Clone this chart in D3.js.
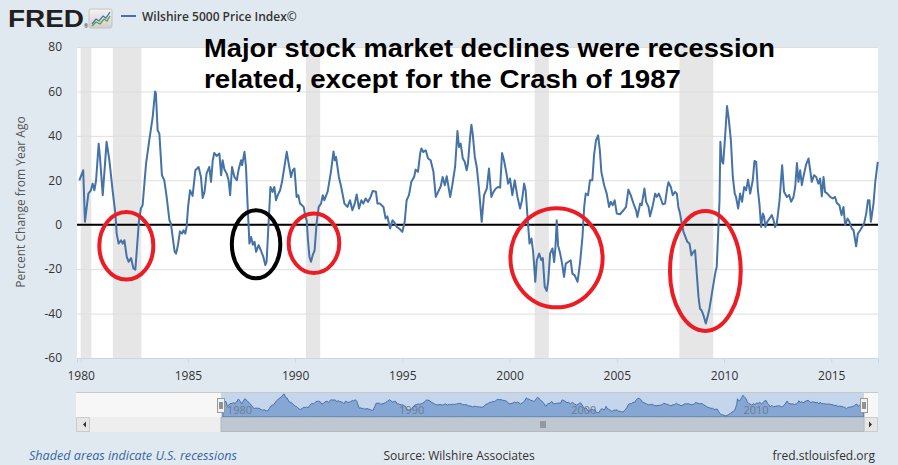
<!DOCTYPE html>
<html lang="en">
<head>
<meta charset="UTF-8">
<title>Wilshire 5000 Price Index</title>
<script src="https://d3js.org/d3.v7.min.js"></script>
<style>
  body { margin: 0; background: #e1e9f0; }
  svg { display: block; font-family: "Open Sans", sans-serif; }
</style>
</head>
<body>
<svg width="898" height="465"></svg>
<script>
// percent change from year ago (decimal years)
const years = [
  1979.94, 1980.12, 1980.2, 1980.36, 1980.48, 1980.56, 1980.64, 1980.72, 1980.84, 1980.9,
  1981.03, 1981.21, 1981.34, 1981.49, 1981.62, 1981.68, 1981.77, 1981.88, 1981.96, 1982.04,
  1982.15, 1982.24, 1982.35, 1982.46, 1982.55, 1982.63, 1982.72, 1982.81, 1982.89, 1983.05,
  1983.2, 1983.36, 1983.47, 1983.51, 1983.59, 1983.67, 1983.79, 1983.9, 1984.01, 1984.14,
  1984.21, 1984.29, 1984.38, 1984.45, 1984.54, 1984.63, 1984.73, 1984.8, 1984.88, 1984.94,
  1985.01, 1985.1, 1985.22, 1985.35, 1985.5, 1985.61, 1985.69, 1985.78, 1985.87, 1986.0,
  1986.08, 1986.16, 1986.23, 1986.34, 1986.47, 1986.55, 1986.62, 1986.7, 1986.81, 1986.9,
  1986.97, 1987.06, 1987.17, 1987.28, 1987.37, 1987.48, 1987.53, 1987.64, 1987.71, 1987.79,
  1987.87, 1987.95, 1988.03, 1988.11, 1988.18, 1988.3, 1988.4, 1988.52, 1988.61, 1988.67,
  1988.77, 1988.85, 1988.95, 1989.03, 1989.11, 1989.19, 1989.3, 1989.39, 1989.5, 1989.61,
  1989.7, 1989.81, 1989.89, 1989.97, 1990.07, 1990.15, 1990.23, 1990.32, 1990.4, 1990.48,
  1990.54, 1990.6, 1990.67, 1990.74, 1990.82, 1990.91, 1991.0, 1991.1, 1991.21, 1991.29,
  1991.36, 1991.52, 1991.68, 1991.79, 1991.85, 1991.91, 1992.04, 1992.15, 1992.3, 1992.44,
  1992.56, 1992.67, 1992.78, 1992.87, 1992.98, 1993.09, 1993.18, 1993.29, 1993.4, 1993.52,
  1993.62, 1993.77, 1993.84, 1993.96, 1994.12, 1994.22, 1994.3, 1994.43, 1994.54, 1994.61,
  1994.74, 1994.85, 1995.0, 1995.11, 1995.2, 1995.31, 1995.42, 1995.55, 1995.62, 1995.73,
  1995.83, 1995.89, 1995.98, 1996.09, 1996.2, 1996.32, 1996.45, 1996.56, 1996.67, 1996.79,
  1996.88, 1996.98, 1997.07, 1997.23, 1997.33, 1997.46, 1997.57, 1997.64, 1997.72, 1997.82,
  1997.91, 1998.0, 1998.06, 1998.16, 1998.22, 1998.28, 1998.38, 1998.47, 1998.58, 1998.7,
  1998.81, 1998.94, 1999.04, 1999.15, 1999.25, 1999.36, 1999.46, 1999.56, 1999.65, 1999.74,
  1999.87, 1999.93, 2000.02, 2000.13, 2000.24, 2000.37, 2000.49, 2000.58, 2000.68, 2000.75,
  2000.86, 2000.93, 2001.02, 2001.1, 2001.2, 2001.27, 2001.38, 2001.48, 2001.55, 2001.64,
  2001.73, 2001.8, 2001.89, 2002.0, 2002.08, 2002.14, 2002.2, 2002.26, 2002.36, 2002.45,
  2002.54, 2002.62, 2002.73, 2002.85, 2002.93, 2003.04, 2003.17, 2003.29, 2003.4, 2003.48,
  2003.55, 2003.66, 2003.75, 2003.86, 2003.94, 2004.03, 2004.13, 2004.21, 2004.28, 2004.41,
  2004.53, 2004.64, 2004.72, 2004.81, 2004.9, 2005.0, 2005.15, 2005.31, 2005.43, 2005.54,
  2005.65, 2005.78, 2005.9, 2005.96, 2006.09, 2006.16, 2006.29, 2006.37, 2006.48, 2006.55,
  2006.68, 2006.79, 2006.86, 2006.96, 2007.05, 2007.14, 2007.25, 2007.36, 2007.41, 2007.52,
  2007.61, 2007.72, 2007.8, 2007.87, 2007.95, 2008.03, 2008.11, 2008.2, 2008.29, 2008.39,
  2008.48, 2008.57, 2008.65, 2008.73, 2008.81, 2008.88, 2008.95, 2009.04, 2009.15, 2009.23,
  2009.32, 2009.41, 2009.51, 2009.6, 2009.66, 2009.72, 2009.79, 2009.83, 2009.89, 2009.96,
  2010.0, 2010.07, 2010.14, 2010.22, 2010.32, 2010.41, 2010.5, 2010.56, 2010.66, 2010.75,
  2010.84, 2010.94, 2011.03, 2011.12, 2011.22, 2011.34, 2011.42, 2011.5, 2011.58, 2011.65,
  2011.73, 2011.81, 2011.87, 2011.93, 2012.02, 2012.12, 2012.23, 2012.31, 2012.38, 2012.46,
  2012.59, 2012.71, 2012.8, 2012.93, 2013.04, 2013.13, 2013.24, 2013.32, 2013.4, 2013.47,
  2013.55, 2013.63, 2013.7, 2013.83, 2013.94, 2014.02, 2014.09, 2014.2, 2014.3, 2014.4,
  2014.48, 2014.56, 2014.64, 2014.71, 2014.82, 2014.95, 2015.07, 2015.18, 2015.26, 2015.38,
  2015.48, 2015.57, 2015.65, 2015.76, 2015.85, 2015.96, 2016.04, 2016.16, 2016.24, 2016.35,
  2016.44, 2016.53, 2016.63, 2016.71, 2016.78, 2016.85, 2016.97, 2017.06, 2017.17
];
const values = [
  20, 24.5, 1.3, 14, 15.5, 18.5, 15.5, 20, 36.5, 30.5,
  13.3, 37.3, 29, 15.5, 5, -4, -8.5, -7, -8.5, -7,
  -14.5, -16.7, -15, -19.7, -20.2, -10, 2, 7.3, 8.8, 27.5,
  38, 48.5, 60, 59, 42.5, 41, 22.3, 20, 12.5, 2,
  0.5, -5.5, -12, -13, -9, -3, -4, -2.5, -4, -1,
  8, 15.5, 13, 24.5, 26, 21.5, 12, 15, 23, 26,
  19.3, 29, 32.3, 31, 32, 22.3, 29, 25, 23, 20,
  13.3, 26, 21.5, 20, 25, 29, 26.8, 32.8, 26, 8,
  -8.5, -5.5, -9, -7.7, -12.2, -9.2, -11.5, -14.5, -18.2, -16.7,
  2, 17, 14.8, 17, 11, 13.3, 15.5, 19.3, 26, 32.8,
  27.5, 21.5, 24.5, 25.3, 12.5, 13.3, 9.5, 8.8, 8, 3.5,
  2, -7, -14.5, -16.7, -13.7, -11.5, 0.5, 8, 9.5, 13.3,
  11, 15, 24.5, 33, 29, 30.5, 21.5, 17, 9.5, 8,
  11, 6.5, 9.5, 13.6, 7.3, 11, 9.5, 11.8, 10.3, 12.5,
  15.2, 14.8, 9.5, 9.5, 8, 2.8, 3.8, -1.7, 2, 1.3,
  -1, -1.7, -3.2, 1.3, 11, 13.3, 19.3, 21.5, 24.8, 23.8,
  32, 34.3, 32.7, 33.5, 29.8, 29, 23.8, 12.5, 14.8, 17.3,
  21.5, 17.8, 21.8, 12.5, 17.8, 26, 42.2, 35, 36.5, 29.8,
  28.3, 24.5, 27.5, 39.5, 45, 41, 30.5, 26, 15.5, 1.3,
  13.3, 16.3, 25.3, 12.5, 14.8, 16.3, 17, 16.7, 32.3, 29,
  22.3, 18.5, 20.8, 13.3, 20, 12.5, 7.3, 11, 18.5, 15.5,
  0.5, -8.5, -6.2, -12.2, -25.7, -16, -13, -16, -15, -28,
  -29.8, -25.7, -13, -10.7, -16.8, -10, 2, -9.2, -13, -17.5,
  -23.5, -17.5, -16.8, -16, -22, -22.8, -25.7, -16.8, -5.5, 8,
  14, 13.3, 20, 20, 31.3, 38, 40.2, 33.5, 23.8, 17.8,
  14, 8, 10.3, 8.8, 11, 5, 4.7, 6.5, 8, 15.8,
  13.3, 9.5, 6.5, 3.5, 9.5, 8.8, 16.3, 10.3, 8, 3.8,
  8.8, 14, 12.5, 14, 11.8, 9.2, 9.5, 17, 19.1, 17,
  13.3, 14.8, 14, 8, 5, 0.5, -3.2, -5.5, -7.7, -8.5,
  -13.8, -12.3, -11.5, -22, -32.5, -37.8, -38.5, -40.7, -44.5, -41.5,
  -37.8, -32.5, -26.5, -21.3, -19, -5.5, 11, 37.3, 29, 27.5,
  32.8, 42.5, 53.4, 47.8, 38, 21.5, 14, 12.5, 7.3, 14,
  10.3, 17, 15.5, 20.3, 14, 20, 28.7, 28.3, 15.5, 9.5,
  -1, 5, 3.5, -1, 1.3, 2.8, 4.3, 2, -1, 0.5,
  11, 26.8, 14.8, 12.5, 13.3, 10.3, 12.5, 17, 27.8, 19.3,
  24.5, 17.8, 21.5, 27.2, 29.8, 24.5, 19.3, 22.3, 21.5, 18.5,
  20.8, 12.8, 21.5, 14.8, 14, 12.5, 11.8, 12.5, 9.8, 8.8,
  4.3, 8, -0.2, 2.8, 1.3, -1.7, -2.5, -9.7, -4, -2.5,
  -1, 0.5, 5, 11, 11, 1.3, 9.5, 20, 28.3
];

// U.S. recessions [start, end]
const recessions = [[1980.0, 1980.5], [1981.5, 1982.83], [1990.5, 1991.17], [2001.17, 2001.83], [2007.92, 2009.5]];

const yTicks = [-60, -40, -20, 0, 20, 40, 60, 80];
const xTicks = [1980, 1985, 1990, 1995, 2000, 2005, 2010, 2015];
const navTicks = [1980, 1990, 2000, 2010];

// hand-drawn rings: [centre year, centre value, half-width in years, half-height in %, colour]
const rings = [
  [1982.13, -9.5, 1.26, 15.2, "#ec1c24"],
  [1988.18, -8.8, 1.13, 15.3, "#000000"],
  [1990.88, -8.3, 1.18, 13.4, "#ec1c24"],
  [2002.19, -14.9, 2.15, 22.3, "#ec1c24"],
  [2009.13, -20.8, 1.65, 27.0, "#ec1c24"]
];

const noteLines = ["Major stock market declines were recession", "related, except for the Crash of 1987"];

const svg = d3.select("svg");
const W = 898, H = 465;
const plot = { left: 77, right: 878, top: 47, bottom: 358 };
const lineColor = "#4572a7";

const x = d3.scaleLinear().domain([1979.83, 2017.18]).range([plot.left, plot.right]);
const y = d3.scaleLinear().domain([-60, 80]).range([plot.bottom, plot.top]);

svg.append("rect").attr("width", W).attr("height", H).attr("fill", "#e1e9f0");
svg.append("rect")
  .attr("x", plot.left).attr("y", plot.top)
  .attr("width", plot.right - plot.left).attr("height", plot.bottom - plot.top)
  .attr("fill", "#ffffff");

// recession shading
svg.selectAll(".rec")
  .data(recessions)
  .enter().append("rect")
  .attr("class", "rec")
  .attr("x", d => x(d[0]))
  .attr("width", d => x(d[1]) - x(d[0]))
  .attr("y", plot.top)
  .attr("height", plot.bottom - plot.top)
  .attr("fill", "#e6e6e6");

// y axis + gridlines
const yAxis = svg.append("g")
  .attr("transform", `translate(${plot.left},0)`)
  .call(d3.axisLeft(y).tickValues(yTicks).tickFormat(d => String(d))
    .tickSize(-(plot.right - plot.left)).tickPadding(15));
yAxis.select(".domain").remove();
yAxis.selectAll(".tick line").attr("stroke", "#dedede");
yAxis.selectAll(".tick text")
  .attr("fill", "#333")
  .style("font-size", "12px")
  .style("font-family", "'Open Sans', sans-serif");

// x axis
const xAxis = svg.append("g")
  .attr("transform", `translate(0,${plot.bottom})`)
  .call(d3.axisBottom(x).tickValues(xTicks).tickFormat(d => String(d))
    .tickSize(5).tickPadding(8));
xAxis.select(".domain").attr("stroke", "#ccd6eb");
xAxis.selectAll(".tick line").attr("stroke", "#ccd6eb");
xAxis.selectAll(".tick text")
  .attr("fill", "#333")
  .style("font-size", "12px")
  .style("font-family", "'Open Sans', sans-serif");

// zero line
svg.append("line")
  .attr("x1", plot.left).attr("x2", plot.right)
  .attr("y1", y(0)).attr("y2", y(0))
  .attr("stroke", "#000").attr("stroke-width", 2);

// series
const line = d3.line()
  .x((d, i) => x(years[i]))
  .y(d => y(d));

svg.append("path")
  .datum(values)
  .attr("fill", "none")
  .attr("stroke", lineColor)
  .attr("stroke-width", 2)
  .attr("stroke-linejoin", "round")
  .attr("d", line);

// rings
svg.selectAll(".ring")
  .data(rings)
  .enter().append("ellipse")
  .attr("class", "ring")
  .attr("cx", d => x(d[0]))
  .attr("cy", d => y(d[1]))
  .attr("rx", d => x(d[0] + d[2]) - x(d[0]))
  .attr("ry", d => y(d[1] - d[3]) - y(d[1]))
  .attr("fill", "none")
  .attr("stroke", d => d[4])
  .attr("stroke-width", 4);

// annotation
svg.selectAll(".note")
  .data(noteLines)
  .enter().append("text")
  .attr("class", "note")
  .attr("x", 204)
  .attr("y", (d, i) => 57 + i * 31)
  .attr("textLength", (d, i) => i === 0 ? 571 : 477)
  .attr("lengthAdjust", "spacingAndGlyphs")
  .style("font-family", "'Liberation Sans', Arial, sans-serif")
  .style("font-weight", "bold")
  .style("font-size", "26px")
  .attr("fill", "#000")
  .text(d => d);

// y title
svg.append("text")
  .attr("transform", "translate(25,202) rotate(-90)")
  .attr("text-anchor", "middle")
  .attr("fill", "#555")
  .style("font-size", "12px")
  .text("Percent Change from Year Ago");

// header: logo + legend
svg.append("text")
  .attr("x", 8).attr("y", 27)
  .attr("textLength", 76)
  .attr("lengthAdjust", "spacingAndGlyphs")
  .style("font-family", "'Liberation Sans', Arial, sans-serif")
  .style("font-weight", "bold")
  .style("font-size", "24px")
  .attr("fill", "#231f20")
  .text("FRED");
svg.append("text")
  .attr("x", 84).attr("y", 28)
  .style("font-size", "5px")
  .attr("fill", "#231f20")
  .text("®");

const grad = svg.append("defs").append("linearGradient")
  .attr("id", "iconGrad").attr("x1", 0).attr("x2", 0).attr("y1", 0).attr("y2", 1);
grad.append("stop").attr("offset", "0%").attr("stop-color", "#f4f4f4");
grad.append("stop").attr("offset", "100%").attr("stop-color", "#cfcfcf");
const icon = svg.append("g").attr("transform", "translate(89,9)");
icon.append("rect").attr("width", 23).attr("height", 19).attr("rx", 2)
  .attr("fill", "url(#iconGrad)").attr("stroke", "#c4c4c4");
icon.append("polyline").attr("points", "3,15 7,10 10,12 14,7 17,9 21,3")
  .attr("fill", "none").attr("stroke", "#4572a7").attr("stroke-width", 1.3);
icon.append("polyline").attr("points", "3,17 7,13 11,15 15,10 18,12 21,7")
  .attr("fill", "none").attr("stroke", "#5c9e3c").attr("stroke-width", 1.3);

svg.append("line")
  .attr("x1", 121).attr("x2", 136).attr("y1", 16).attr("y2", 16)
  .attr("stroke", lineColor).attr("stroke-width", 2);
svg.append("text")
  .attr("x", 142).attr("y", 20.5)
  .attr("fill", "#333")
  .style("font-size", "12px")
  .style("font-weight", "600")
  .text("Wilshire 5000 Price Index©");

// navigator
const nav = { left: 76, right: 878, top: 393, bottom: 417, scroll: 432 };
const navX = d3.scaleLinear().domain(x.domain()).range([221, 864]);
const navY = d3.scaleLinear().domain(d3.extent(values)).range([416, 394]);

svg.append("rect")
  .attr("x", nav.left).attr("y", nav.top)
  .attr("width", nav.right - nav.left).attr("height", nav.bottom - nav.top)
  .attr("fill", "#f7f7f7");
svg.append("rect")
  .attr("x", navX.range()[0]).attr("y", nav.top)
  .attr("width", navX.range()[1] - navX.range()[0]).attr("height", nav.bottom - nav.top)
  .attr("fill", "#c5d5ec");

const area = d3.area()
  .x((d, i) => navX(years[i]))
  .y0(nav.bottom)
  .y1(d => navY(d));
svg.append("path")
  .datum(values)
  .attr("fill", "#86a6d4")
  .attr("stroke", lineColor)
  .attr("stroke-width", 1)
  .attr("d", area);

svg.append("line")
  .attr("x1", nav.left).attr("x2", nav.right)
  .attr("y1", nav.top - 0.5).attr("y2", nav.top - 0.5)
  .attr("stroke", "#c8c8c8");

svg.selectAll(".navlab")
  .data(navTicks)
  .enter().append("text")
  .attr("class", "navlab")
  .attr("x", d => navX(d) + 3)
  .attr("y", 414)
  .attr("fill", "#6d7c8e")
  .style("font-size", "11px")
  .text(d => d);

// scrollbar
svg.append("rect")
  .attr("x", nav.left).attr("y", nav.bottom)
  .attr("width", nav.right - nav.left).attr("height", nav.scroll - nav.bottom)
  .attr("fill", "#eeeeee");
svg.append("rect")
  .attr("x", navX.range()[0]).attr("y", nav.bottom + 0.5)
  .attr("width", navX.range()[1] - navX.range()[0]).attr("height", nav.scroll - nav.bottom - 1)
  .attr("fill", "#bfc8d1").attr("stroke", "#b2bac4");
const gripX = (navX.range()[0] + navX.range()[1]) / 2;
[-2, 0, 2].forEach(o => {
  svg.append("line")
    .attr("x1", gripX + o + 0.5).attr("x2", gripX + o + 0.5)
    .attr("y1", 421).attr("y2", 428)
    .attr("stroke", "#6b6b6b");
});
[[nav.left, "M83,424.5 l3,-3 v6 z"], [nav.right - 14, "M872,424.5 l-3,-3 v6 z"]].forEach(([bx, arrow]) => {
  svg.append("rect")
    .attr("x", bx + 0.5).attr("y", nav.bottom + 0.5)
    .attr("width", 13).attr("height", nav.scroll - nav.bottom - 1)
    .attr("fill", "#e6e6e6").attr("stroke", "#cccccc");
  svg.append("path").attr("d", arrow).attr("fill", "#333");
});

// handles
navX.range().forEach(hx => {
  svg.append("rect")
    .attr("x", hx - 3.5).attr("y", 398.5)
    .attr("width", 7).attr("height", 14)
    .attr("fill", "#f2f2f2").attr("stroke", "#999");
  [-1, 1].forEach(o => {
    svg.append("line")
      .attr("x1", hx + o).attr("x2", hx + o)
      .attr("y1", 402).attr("y2", 409)
      .attr("stroke", "#333");
  });
});

// footer
svg.append("text")
  .attr("x", 29).attr("y", 460)
  .attr("fill", "#3567a6")
  .style("font-size", "12.6px")
  .style("font-style", "italic")
  .text("Shaded areas indicate U.S. recessions");
svg.append("text")
  .attr("x", 459).attr("y", 460)
  .attr("text-anchor", "middle")
  .attr("fill", "#333")
  .style("font-size", "12px")
  .text("Source: Wilshire Associates");
svg.append("text")
  .attr("x", 875).attr("y", 460)
  .attr("text-anchor", "end")
  .attr("fill", "#333")
  .style("font-size", "12px")
  .text("fred.stlouisfed.org");
</script>
</body>
</html>
